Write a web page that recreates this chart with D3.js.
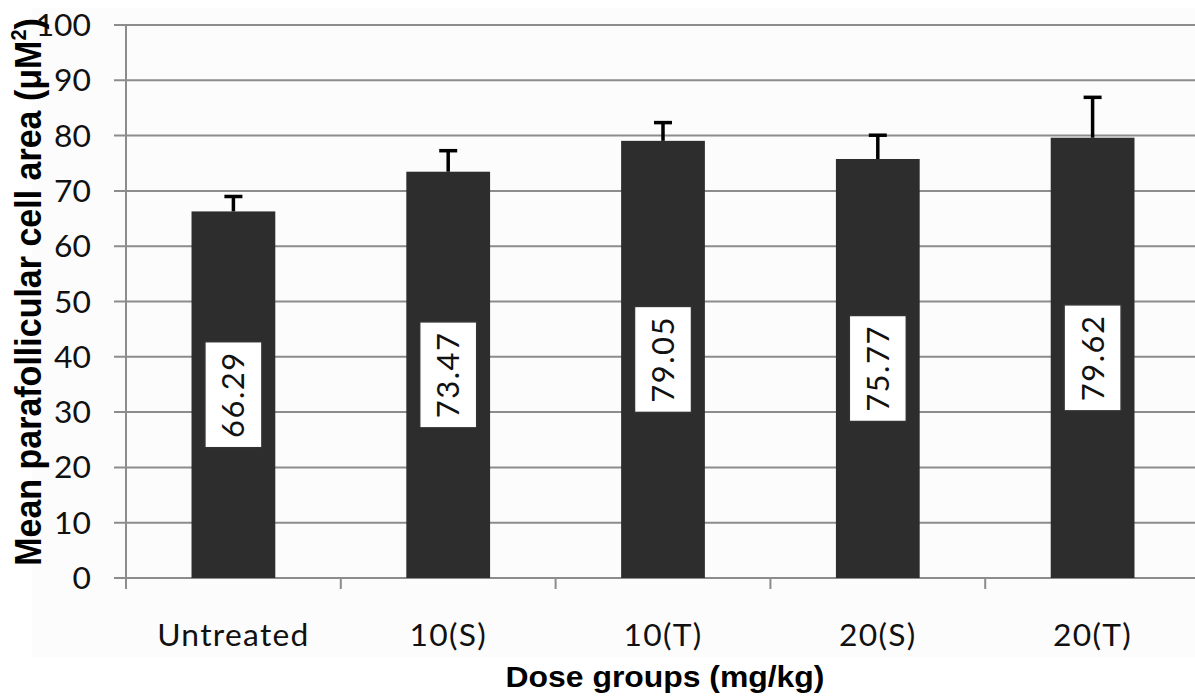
<!DOCTYPE html>
<html><head><meta charset="utf-8">
<script src="https://cdn.jsdelivr.net/npm/d3@7"></script>
<style>body{margin:0;background:#fff}svg{display:block}</style>
</head><body>
<svg id="c" width="1195" height="698"></svg>
<script>
const categories = ["Untreated", "10(S)", "10(T)", "20(S)", "20(T)"];
const means = [66.29, 73.47, 79.05, 75.77, 79.62];
const errors = [2.7, 3.8, 3.3, 4.3, 7.3];
const yTicks = [0, 10, 20, 30, 40, 50, 60, 70, 80, 90, 100];
const xTitle = "Dose groups (mg/kg)";

const svg = d3.select("#c");
const pL = 126, pR = 1200, pT = 25, pB = 578;
const x = d3.scaleBand().domain(categories).range([pL, pR]).paddingInner(0.61).paddingOuter(0.305);
const y = d3.scaleLinear().domain([0, 100]).range([pB, pT]);
const FONT = "Lato, 'Open Sans', sans-serif";

svg.append("rect").attr("x", 32).attr("y", 8).attr("width", 1163).attr("height", 649).attr("fill", "#fcfcfc");

// gridlines
svg.append("g").selectAll("line").data(yTicks).join("line")
  .attr("x1", pL - 12).attr("x2", 1195)
  .attr("y1", d => y(d)).attr("y2", d => y(d))
  .attr("stroke", "#8c8c8c").attr("stroke-width", 2);

// y axis line
svg.append("line").attr("x1", pL).attr("x2", pL).attr("y1", pT).attr("y2", pB + 11)
  .attr("stroke", "#8c8c8c").attr("stroke-width", 2);

// x category ticks at band boundaries
const step = x.step();
const bounds = d3.range(categories.length + 1).map(i => pL + i * step);
svg.append("g").selectAll("line").data(bounds).join("line")
  .attr("x1", d => d).attr("x2", d => d).attr("y1", pB).attr("y2", pB + 11)
  .attr("stroke", "#8c8c8c").attr("stroke-width", 2);

// y tick labels
svg.append("g").selectAll("text").data(yTicks).join("text")
  .attr("transform", d => `translate(91,${y(d) + 11}) scale(1.06,1)`)
  .attr("text-anchor", "end")
  .attr("font-family", FONT).attr("font-size", 30)
  .attr("fill", "#111").text(d => d);

// bars
svg.append("g").selectAll("rect").data(categories).join("rect")
  .attr("x", d => x(d)).attr("width", x.bandwidth())
  .attr("y", (d, i) => y(means[i])).attr("height", (d, i) => y(0) - y(means[i]))
  .attr("fill", "#2d2d2d");

// error bars
const eb = svg.append("g").attr("stroke", "#000").attr("stroke-width", 3.5);
categories.forEach((c, i) => {
  const cx = x(c) + x.bandwidth() / 2;
  eb.append("line").attr("x1", cx).attr("x2", cx).attr("y1", y(means[i])).attr("y2", y(means[i] + errors[i]));
  eb.append("line").attr("x1", cx - 9).attr("x2", cx + 9).attr("y1", y(means[i] + errors[i])).attr("y2", y(means[i] + errors[i]));
});

// value labels
categories.forEach((c, i) => {
  const cx = x(c) + x.bandwidth() / 2;
  const cy = y(means[i] / 2);
  const g = svg.append("g").attr("transform", `translate(${cx},${cy}) rotate(-90)`);
  const boxW = 106, boxH = 57;
  g.append("rect").attr("x", -boxW / 2).attr("y", -boxH / 2).attr("width", boxW).attr("height", boxH)
    .attr("fill", "#fff").attr("stroke", "#333").attr("stroke-width", 1.5);
  g.append("text").attr("x", 0).attr("y", 11).attr("text-anchor", "middle")
    .attr("font-family", FONT).attr("font-size", 31).attr("letter-spacing", 1.5)
    .attr("fill", "#111").text(means[i].toFixed(2));
});

// x category labels
svg.append("g").selectAll("text").data(categories).join("text")
  .attr("transform", d => `translate(${x(d) + x.bandwidth() / 2},646) scale(1.06,1)`)
  .attr("text-anchor", "middle").attr("letter-spacing", 1.2)
  .attr("font-family", FONT).attr("font-size", 30)
  .attr("fill", "#111").text(d => d);

// x title
svg.append("text").attr("transform", "translate(665,687) scale(1.1,1)").attr("text-anchor", "middle")
  .attr("font-family", "'Liberation Sans', Arial, sans-serif").attr("font-weight", "bold").attr("font-size", 29)
  .attr("fill", "#000").text(xTitle);

// y title
const yt = svg.append("text").attr("transform", "translate(41,292) scale(1.1,1) rotate(-90)").attr("text-anchor", "middle")
  .attr("font-family", "'Liberation Sans', Arial, sans-serif").attr("font-weight", "bold").attr("font-size", 34)
  .attr("fill", "#000");
yt.append("tspan").text("Mean parafollicular cell area (μM");
yt.append("tspan").attr("font-size", 20).attr("dy", -14).text("2");
yt.append("tspan").attr("dy", 14).text(")");
</script>
</body></html>
